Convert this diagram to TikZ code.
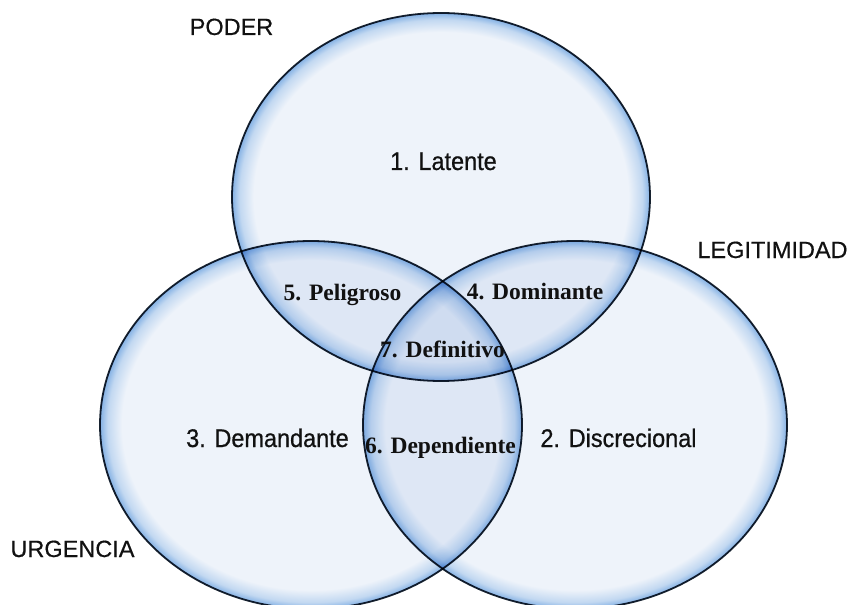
\documentclass[tikz,border=0pt]{standalone}
\usepackage{fontspec}
\setmainfont{Liberation Serif}
\newfontfamily\labelsans[FakeBold=0.5]{Liberation Sans}
\newfontfamily\regionsans[FakeStretch=0.92,FakeBold=0.7]{Liberation Sans}
\usetikzlibrary{shapes.geometric}

% colours of the three sets
\definecolor{vinner}{HTML}{EEF3FA}
\definecolor{vmid}{HTML}{C2D8F1}
\definecolor{vrim}{HTML}{84B1E4}
\definecolor{vline}{HTML}{17222F}
\definecolor{vtext}{HTML}{111111}

% pale body with a blue glow just inside the rim
\pgfdeclareradialshading{vennglow}{\pgfpointorigin}{%
  color(0bp)=(vinner); color(22.4bp)=(vinner); color(24.1bp)=(vmid);
  color(25bp)=(vrim); color(50bp)=(vrim)}

\tikzset{
  vennset/.style={shape=ellipse, inner sep=0pt, shading=vennglow,
    draw=vline, line width=1.8bp},
  setname/.style={font=\labelsans\fontsize{23.5bp}{28bp}\selectfont,
    text=vtext, anchor=base, inner sep=0pt},
  region/.style={font=\regionsans\fontsize{25.5bp}{30bp}\selectfont,
    text=vtext, anchor=base, inner sep=0pt},
  zone/.style={font=\fontsize{23.5bp}{28bp}\selectfont\bfseries,
    text=vtext, anchor=base, inner sep=0pt}
}

\begin{document}
\begin{tikzpicture}[x=1bp, y=-1bp]
  \useasboundingbox (0,0) rectangle (849,605);

  % the three overlapping sets, multiplied so overlaps darken
  \begin{scope}[blend group=multiply]
    \node[vennset, minimum width=418bp, minimum height=368bp] (poder) at (441,197) {};
    \node[vennset, minimum width=422bp, minimum height=368bp] (urgencia) at (311,425) {};
    \node[vennset, minimum width=424bp, minimum height=368bp] (legitimidad) at (575,425) {};
  \end{scope}

  % set names
  \node[setname] (tpoder) at (231.5,35) {PODER};
  \node[setname] (tlegit) at (772.5,258) {LEGITIMIDAD};
  \node[setname] (turg) at (72.5,557) {URGENCIA};

  % single-set regions
  \node[region] (latente) at (443.5,170) {1. Latente};
  \node[region] (demandante) at (267.5,447) {3. Demandante};
  \node[region] (discrecional) at (618.5,447) {2. Discrecional};

  % overlap regions
  \node[zone] (peligroso) at (342.5,300) {5. Peligroso};
  \node[zone] (dominante) at (535,299) {4. Dominante};
  \node[zone] (definitivo) at (442.5,357) {7. Definitivo};
  \node[zone] (dependiente) at (440.5,453) {6. Dependiente};
\end{tikzpicture}
\end{document}
